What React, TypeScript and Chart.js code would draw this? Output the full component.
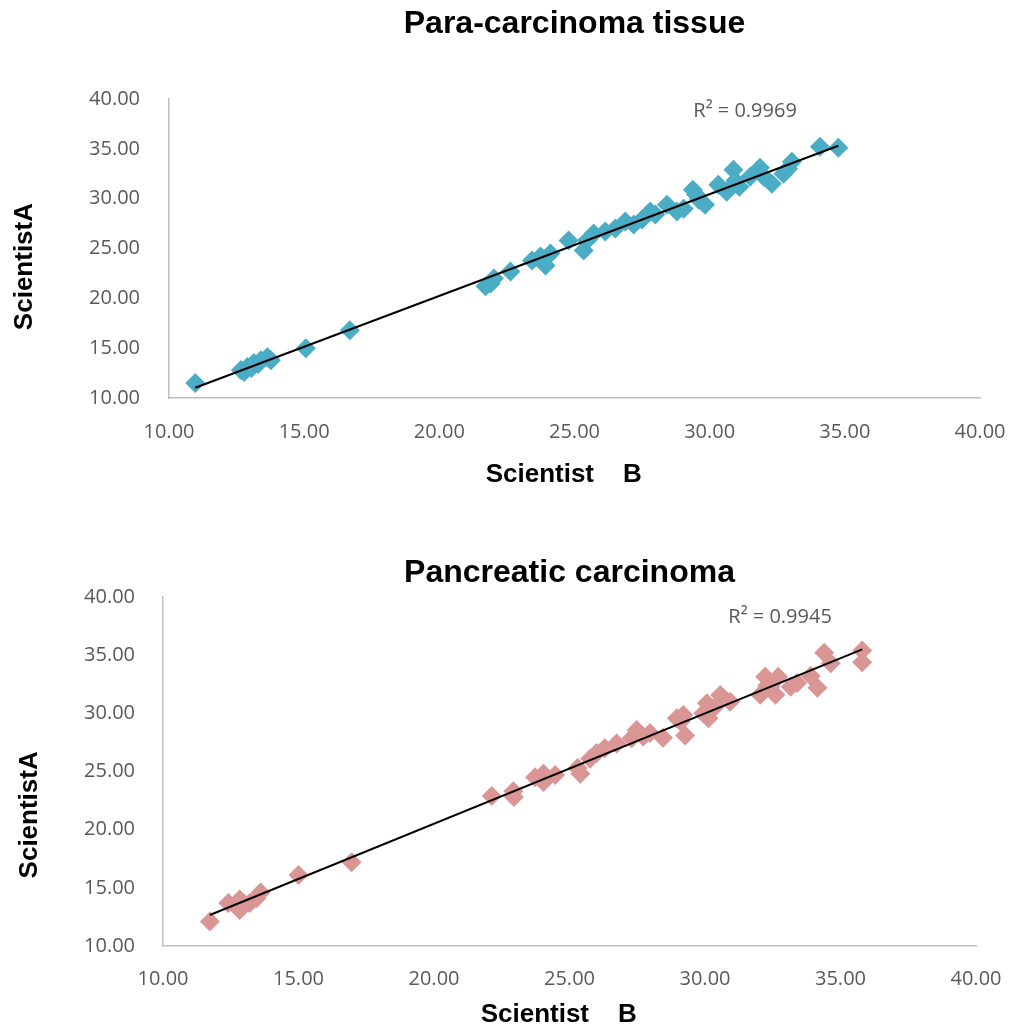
import React, { useEffect, useRef } from "react";
import { Chart, registerables } from "chart.js";

Chart.register(...registerables);

// ---------- data ----------
const chartTitles = ["Para-carcinoma tissue", "Pancreatic carcinoma"];
const xAxisTitle = "Scientist    B   ";
const yAxisTitles = ["ScientistA     ", "ScientistA            "];
const r2Labels = ["R² = 0.9969", "R² = 0.9945"];
const tickStep = 5;
const axisMin = 10;
const axisMax = 40;

// Para-carcinoma tissue: x = Scientist B, y = Scientist A
const paraB = [
  10.97, 12.66, 12.78, 12.9, 13.05, 13.14, 13.3, 13.4, 13.64, 13.77,
  15.06, 16.69, 21.71, 21.9, 22.02, 22.63, 23.43, 23.74, 23.93, 24.11,
  24.78, 25.34, 25.46, 25.71, 26.14, 26.51, 26.88, 27.19, 27.5, 27.8,
  27.99, 28.42, 28.79, 29.04, 29.38, 29.5, 29.83, 29.6, 30.32, 30.63,
  30.88, 30.95, 31.1, 31.5, 31.86, 32.0, 32.3, 32.73, 32.9, 33.04,
  34.08, 34.76,
];
const paraA = [
  11.5, 12.8, 12.6, 13.1, 13.0, 13.5, 13.4, 13.8, 14.1, 13.8,
  15.0, 16.8, 21.2, 21.5, 22.0, 22.7, 23.8, 24.2, 23.3, 24.5,
  25.8, 24.8, 25.8, 26.5, 26.7, 27.0, 27.7, 27.4, 27.9, 28.7,
  28.4, 29.4, 28.7, 29.0, 30.9, 30.4, 29.4, 29.9, 31.4, 30.7,
  32.9, 31.8, 31.2, 32.2, 33.1, 32.2, 31.5, 32.5, 33.0, 33.7,
  35.2, 35.1,
];

// Pancreatic carcinoma: x = Scientist B, y = Scientist A
const pancB = [
  11.73, 12.41, 12.83, 12.83, 13.0, 13.2, 13.45, 13.6, 15.0, 16.96,
  22.13, 22.93, 22.95, 23.73, 24.04, 24.04, 24.47, 25.3, 25.4, 25.76,
  26.0, 26.3, 26.74, 27.29, 27.48, 27.72, 27.97, 28.45, 28.96, 29.2,
  29.27, 29.1, 29.94, 30.07, 30.13, 30.31, 30.56, 30.68, 30.93, 32.04,
  32.3, 32.22, 32.41, 32.6, 32.7, 33.16, 33.4, 33.9, 34.15, 34.4,
  34.64, 35.8, 35.8,
];
const pancA = [
  12.1, 13.7, 13.1, 14.0, 13.6, 13.7, 14.1, 14.6, 16.1, 17.2,
  22.9, 23.3, 22.8, 24.5, 24.8, 24.1, 24.7, 25.3, 24.8, 26.1,
  26.6, 27.0, 27.4, 27.85, 28.56, 28.0, 28.3, 27.9, 29.57, 29.85,
  28.1, 29.3, 30.0, 30.86, 29.57, 30.43, 31.57, 31.29, 31.0, 31.6,
  32.4, 33.15, 32.29, 31.6, 33.15, 32.29, 32.6, 33.2, 32.2, 35.2,
  34.3, 35.4, 34.4,
];

const pointColors = ["#4BACC6", "#D99694"];
const r2Anchors = [
  { x: 31.31, y: 38.8 },
  { x: 32.77, y: 38.28 },
];

// ---------- helpers ----------
function linearFit(xs: number[], ys: number[]) {
  const n = xs.length;
  let sx = 0, sy = 0, sxx = 0, sxy = 0;
  for (let i = 0; i < n; i++) {
    sx += xs[i];
    sy += ys[i];
    sxx += xs[i] * xs[i];
    sxy += xs[i] * ys[i];
  }
  const b = (n * sxy - sx * sy) / (n * sxx - sx * sx);
  const a = (sy - b * sx) / n;
  return { a, b };
}

type Layout = {
  padTop: number;
  padRight: number;
  titleGap: number;
  yAxisWidth: number;
  xAxisHeight: number;
  xTickPad: number;
  yTickPad: number;
  xTitlePadBottom: number;
  yTitlePadTop: number;
};

function makeConfig(idx: number, xs: number[], ys: number[], L: Layout) {
  const { a, b } = linearFit(xs, ys);
  const minX = Math.min(...xs);
  const maxX = Math.max(...xs);
  const pts = xs.map((x, i) => ({ x, y: ys[i] }));
  const trend = [
    { x: minX, y: a + b * minX },
    { x: maxX, y: a + b * maxX },
  ];
  const anchor = r2Anchors[idx];
  const label = r2Labels[idx];

  const r2Plugin = {
    id: "r2label" + idx,
    afterDatasetsDraw(chart: any) {
      const ctx = chart.ctx;
      const px = chart.scales.x.getPixelForValue(anchor.x);
      const py = chart.scales.y.getPixelForValue(anchor.y);
      ctx.save();
      ctx.font = '20px "Open Sans"';
      ctx.fillStyle = "#595959";
      ctx.textAlign = "center";
      ctx.textBaseline = "middle";
      ctx.fillText(label, px, py);
      ctx.restore();
    },
  };

  const tickFont = { family: "Open Sans", size: 20, lineHeight: 1.2 };
  const axisTitleFont = { family: "Liberation Sans", size: 26, weight: "bold" as const, lineHeight: 1 };

  return {
    type: "scatter" as const,
    data: {
      datasets: [
        {
          type: "line" as const,
          data: trend,
          borderColor: "#000000",
          borderWidth: 2,
          pointRadius: 0,
          showLine: true,
          fill: false,
          order: 0,
        },
        {
          type: "scatter" as const,
          data: pts,
          pointStyle: "rectRot" as const,
          pointRadius: 10,
          pointBackgroundColor: pointColors[idx],
          pointBorderColor: pointColors[idx],
          pointBorderWidth: 0,
          order: 1,
        },
      ],
    },
    options: {
      animation: false as const,
      responsive: false,
      devicePixelRatio: 1,
      layout: { padding: { top: L.padTop, right: L.padRight, bottom: 0, left: 0 } },
      plugins: {
        legend: { display: false },
        tooltip: { enabled: false },
        title: {
          display: true,
          text: chartTitles[idx],
          fullSize: false,
          color: "#000000",
          font: { family: "Liberation Sans", size: 32, weight: "bold" as const, lineHeight: 1 },
          padding: { top: 0, bottom: L.titleGap },
        },
      },
      scales: {
        x: {
          type: "linear" as const,
          min: axisMin,
          max: axisMax,
          grid: { display: false, drawTicks: false },
          border: { display: true, color: "#BFBFBF", width: 1.5 },
          ticks: {
            stepSize: tickStep,
            padding: L.xTickPad,
            color: "#595959",
            font: tickFont,
            maxRotation: 0,
            callback: (v: any) => Number(v).toFixed(2),
          },
          title: {
            display: true,
            text: xAxisTitle,
            color: "#000000",
            font: axisTitleFont,
            padding: { top: 0, bottom: L.xTitlePadBottom },
          },
          afterFit: (s: any) => {
            s.height = L.xAxisHeight;
          },
        },
        y: {
          type: "linear" as const,
          min: axisMin,
          max: axisMax,
          grid: { display: false, drawTicks: false },
          border: { display: true, color: "#BFBFBF", width: 1.5 },
          ticks: {
            stepSize: tickStep,
            padding: L.yTickPad,
            color: "#595959",
            font: tickFont,
            callback: (v: any) => Number(v).toFixed(2),
          },
          title: {
            display: true,
            text: yAxisTitles[idx],
            color: "#000000",
            font: axisTitleFont,
            padding: { top: L.yTitlePadTop, bottom: 0 },
          },
          afterFit: (s: any) => {
            s.width = L.yAxisWidth;
          },
        },
      },
    },
    plugins: [r2Plugin],
  };
}

const layouts: Layout[] = [
  {
    padTop: 8,
    padRight: 51,
    titleGap: 59,
    yAxisWidth: 169,
    xAxisHeight: 118,
    xTickPad: 22,
    yTickPad: 29,
    xTitlePadBottom: 28,
    yTitlePadTop: 12,
  },
  {
    padTop: 41,
    padRight: 55,
    titleGap: 8,
    yAxisWidth: 163,
    xAxisHeight: 86,
    xTickPad: 21,
    yTickPad: 28,
    xTitlePadBottom: 4,
    yTitlePadTop: 17,
  },
];

function ScatterPanel({ idx, xs, ys }: { idx: number; xs: number[]; ys: number[] }) {
  const ref = useRef<HTMLCanvasElement | null>(null);
  useEffect(() => {
    if (!ref.current) return;
    const chart = new Chart(ref.current, makeConfig(idx, xs, ys, layouts[idx]) as any);
    return () => chart.destroy();
  }, [idx, xs, ys]);
  return <canvas ref={ref} width={1031} height={516} style={{ display: "block", width: 1031, height: 516 }} />;
}

export default function App() {
  return (
    <div style={{ position: "absolute", left: 0, top: 0, width: 1031, height: 1032, background: "#ffffff" }}>
      <ScatterPanel idx={0} xs={paraB} ys={paraA} />
      <ScatterPanel idx={1} xs={pancB} ys={pancA} />
    </div>
  );
}
